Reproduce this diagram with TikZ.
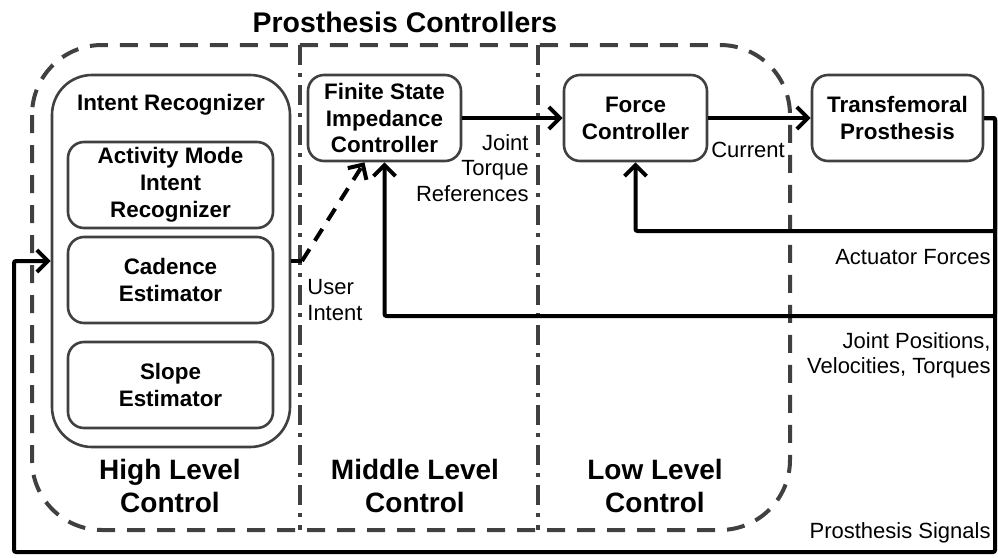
\documentclass[tikz,border=0pt]{standalone}
\usepackage{fontspec}
\setmainfont{Liberation Sans}
\usetikzlibrary{arrows.meta}
\definecolor{boxgray}{HTML}{404040}
\tikzset{
  block/.style={draw=boxgray, line width=1.3pt, rounded corners=8pt, align=center,
    font=\fontsize{11.2}{13.4}\selectfont\bfseries, inner sep=0pt},
  sig/.style={line width=2pt, -{Straight Barb[length=5.5pt,width=11pt,line width=2pt]}},
  lbl/.style={font=\fontsize{11}{12.6}\selectfont, inner sep=0pt},
  lvl/.style={font=\fontsize{14}{16.5}\selectfont\bfseries, align=center, inner sep=0pt}
}
\begin{document}
\begin{tikzpicture}[x=0.5pt,y=-0.5pt]
\useasboundingbox (0,0) rectangle (998,558);
% Controller region and level separators
\draw[boxgray, line width=2pt, dash pattern=on 9pt off 6pt, rounded corners=35pt]
  (32,45) rectangle (790,530);
\draw[boxgray, line width=2pt, dash pattern=on 10pt off 4pt on 2pt off 4pt]
  (300,45) -- (300,530);
\draw[boxgray, line width=2pt, dash pattern=on 10pt off 4pt on 2pt off 4pt]
  (538,45) -- (538,530);
\node[font=\fontsize{14.2}{17}\selectfont\bfseries] (title) at (405,22) {Prosthesis Controllers};
% High level: intent recognizer and its parts
\node[block, rounded corners=20pt, minimum width=119pt, minimum height=186pt] (intent) at (171,261) {};
\node[font=\fontsize{11.2}{13.4}\selectfont\bfseries] (intenttitle) at (171,105) {Intent Recognizer};
\node[block, minimum width=102.5pt, minimum height=43pt] (activity) at (170.5,185) {Activity Mode\\Intent\\Recognizer};
\node[block, minimum width=102.5pt, minimum height=43pt] (cadence) at (170.5,280) {Cadence\\Estimator};
\node[block, minimum width=102.5pt, minimum height=43pt] (slope) at (170.5,385) {Slope\\Estimator};
% Middle and low level controllers, plant
\node[block, minimum width=76.5pt, minimum height=43pt] (fsic) at (384.5,118) {Finite State\\Impedance\\Controller};
\node[block, minimum width=71.5pt, minimum height=43pt] (force) at (635.5,118) {Force\\Controller};
\node[block, minimum width=85.5pt, minimum height=43pt] (trans) at (897.5,118) {Transfemoral\\Prosthesis};
% Forward path
\draw[sig] (fsic.east) -- (force.west);
\draw[sig] (force.east) -- (trans.west);
% Feedback paths
\coordinate (fbA) at (995,231);
\coordinate (fbB) at (995,316);
\coordinate (fbC) at (995,552);
\coordinate (fbD) at (14,552);
\draw[sig, rounded corners=1pt] (trans.east) -| (fbA) -| (force.south);
\draw[sig, rounded corners=1pt] (trans.east) -| (fbB) -| (fsic.south);
\draw[sig, rounded corners=1pt] (trans.east) -| (fbC) -| (fbD) |- (intent.west);
% User intent
\coordinate (ui) at (302,261);
\draw[line width=2pt] (intent.east) -- (ui);
\draw[sig, dash pattern=on 7pt off 5pt] (ui) -- ([xshift=-10pt]fsic.south);
% Signal labels
\node[lbl, align=right, anchor=east] (torqueref) at (529,168) {Joint\\Torque\\References};
\node[lbl] (current) at (748,150) {Current};
\node[lbl, anchor=east] (actforce) at (991,257) {Actuator Forces};
\node[lbl, align=right, anchor=east] (jointsig) at (991,355) {Joint Positions,\\Velocities, Torques};
\node[lbl, anchor=east] (prossig) at (991,533) {Prosthesis Signals};
\node[lbl, align=left, anchor=west] (userint) at (307,300) {User\\Intent};
% Level names
\node[lvl] (high) at (170,486) {High Level\\Control};
\node[lvl] (middle) at (415,486) {Middle Level\\Control};
\node[lvl] (low) at (655,486) {Low Level\\Control};
\end{tikzpicture}
\end{document}
